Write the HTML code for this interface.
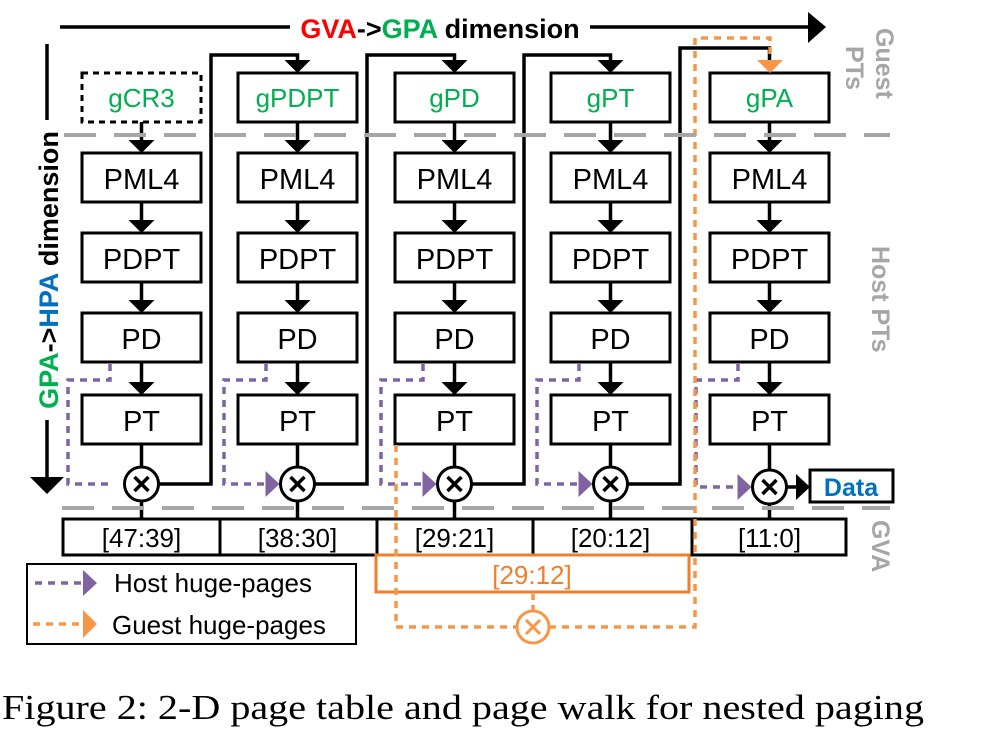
<!DOCTYPE html>
<html><head><meta charset="utf-8"><style>
html,body{margin:0;padding:0;background:#fff;}
svg{display:block;}
text{font-family:"Liberation Sans",sans-serif;}
text.cap{font-family:"Liberation Serif",serif;}
</style></head><body>
<svg id="s" width="989" height="732" viewBox="0 0 989 732" xmlns="http://www.w3.org/2000/svg">
<g id="g"></g>
<g>
<line x1="60" y1="27" x2="290" y2="27" stroke="#000" stroke-width="3.5"/>
<line x1="590" y1="27" x2="810" y2="27" stroke="#000" stroke-width="3.5"/>
<path d="M808,12 L826,27 L808,43 z" fill="#000"/>
<text x="440" y="38" font-size="27" font-weight="bold" text-anchor="middle"><tspan fill="#ff0000">GVA</tspan><tspan fill="#000">-&gt;</tspan><tspan fill="#00b050">GPA</tspan><tspan fill="#000"> dimension</tspan></text>
</g>
<g>
<line x1="47" y1="44" x2="47" y2="120" stroke="#000" stroke-width="3.5"/>
<line x1="47" y1="420" x2="47" y2="478" stroke="#000" stroke-width="3.5"/>
<path d="M30,477 L47,494 L64,477 z" fill="#000"/>
<text transform="translate(58,270) rotate(-90)" font-size="27" font-weight="bold" text-anchor="middle"><tspan fill="#00b050">GPA</tspan><tspan fill="#000">-&gt;</tspan><tspan fill="#0070c0">HPA</tspan><tspan fill="#000"> dimension</tspan></text>
</g>
<text transform="translate(876,28) rotate(90)" font-size="25" font-weight="bold" fill="#a6a6a6">Guest</text>
<text transform="translate(846,46) rotate(90)" font-size="25" font-weight="bold" fill="#a6a6a6">PTs</text>
<text transform="translate(872,246) rotate(90)" font-size="25" font-weight="bold" fill="#a6a6a6">Host PTs</text>
<text transform="translate(872,520) rotate(90)" font-size="25" font-weight="bold" fill="#a6a6a6">GVA</text>
<line x1="64" y1="135" x2="890" y2="135" stroke="#a6a6a6" stroke-width="4" stroke-dasharray="32,18"/>
<line x1="62" y1="508" x2="890" y2="508" stroke="#a6a6a6" stroke-width="4" stroke-dasharray="32,18"/>
<text class="cap" x="2" y="719" font-size="35" fill="#000" textLength="922" lengthAdjust="spacingAndGlyphs">Figure 2: 2-D page table and page walk for nested paging</text>
</svg>
<script>
var guestLabels=["gCR3","gPDPT","gPD","gPT","gPA"];
var hostLevels=["PML4","PDPT","PD","PT"];
var gvaLabels=["[47:39]","[38:30]","[29:21]","[20:12]","[11:0]"];
var NS="http://www.w3.org/2000/svg";
var g=document.getElementById('g');
function mk(t,a,p){var e=document.createElementNS(NS,t);for(var k in a)e.setAttribute(k,a[k]);(p||g).appendChild(e);return e;}
var colX=[82,238,395,551,710], bw=119, bh=49;
var rowY=[153,233,313,395];
var cy=[484,484,484,484,487];
for(var i=0;i<5;i++){
  var x=colX[i], cx=x+bw/2;
  var col=mk('g',{});
  
  
  var gb=mk('rect',{x:x,y:73,width:bw,height:bh,fill:'#fff',stroke:'#000','stroke-width':3},col);
  if(i==0)gb.setAttribute('stroke-dasharray','6,5');
  
  
  var gt=mk('text',{x:cx,y:107,'font-size':26,fill:'#00b050','text-anchor':'middle'},col);
  gt.textContent=guestLabels[i];
  
  
  var tops=[122].concat(rowY.map(function(y){return y+bh;}));
  for(var r=0;r<4;r++){
    mk('line',{x1:cx,y1:tops[r],x2:cx,y2:rowY[r]-12,stroke:'#000','stroke-width':3.5},col);
    mk('path',{d:'M'+(cx-13)+','+(rowY[r]-13)+' L'+cx+','+rowY[r]+' L'+(cx+13)+','+(rowY[r]-13)+' z',fill:'#000'},col);
    var hb=mk('rect',{x:x,y:rowY[r],width:bw,height:bh,fill:'#fff',stroke:'#000','stroke-width':3},col);
    
    
    var ht=mk('text',{x:cx,y:rowY[r]+36,'font-size':29,fill:'#000','text-anchor':'middle'},col);
    ht.textContent=hostLevels[r];
  }
  mk('line',{x1:cx,y1:444,x2:cx,y2:cy[i]-17,stroke:'#000','stroke-width':3.5},col);
  mk('line',{x1:cx,y1:cy[i]+17,x2:cx,y2:519,stroke:'#000','stroke-width':3.5},col);
  var px=x+28, lx=x-14;
  mk('path',{d:'M'+px+','+(rowY[2]+bh+2)+' L'+px+','+(380)+' L'+lx+','+380+' L'+lx+','+cy[i]+' L'+(cx-30)+','+cy[i],fill:'none',stroke:'#8064a2','stroke-width':3.5,'stroke-dasharray':'7,6'},col);
  if(i>0) mk('path',{d:'M'+(cx-32)+','+(cy[i]-13)+' L'+(cx-18)+','+cy[i]+' L'+(cx-32)+','+(cy[i]+13)+' z',fill:'#8064a2'},col);
  var c=mk('circle',{cx:cx,cy:cy[i],r:17,fill:'#fff',stroke:'#000','stroke-width':3},col);
  
  
  mk('path',{d:'M'+(cx-7)+','+(cy[i]-7)+' L'+(cx+7)+','+(cy[i]+7)+' M'+(cx+7)+','+(cy[i]-7)+' L'+(cx-7)+','+(cy[i]+7),stroke:'#000','stroke-width':3.5},col);
  if(i<4){
    var vx=colX[i]+bw+10, nx=colX[i+1]+bw/2;
    var ty=(i==3?48:55);
    mk('path',{d:'M'+(cx+17)+','+cy[i]+' L'+vx+','+cy[i]+' L'+vx+','+ty+' L'+nx+','+ty+' L'+nx+',62',fill:'none',stroke:'#000','stroke-width':3.5},col);
    if(i<3) mk('path',{d:'M'+(nx-13)+',60 L'+nx+',73 L'+(nx+13)+',60 z',fill:'#000'},col);
  }
  var gx=(i==0?63:colX[i]-18), gx2=(i==4?846:colX[i+1]-18);
  var gr=mk('rect',{x:gx,y:519,width:gx2-gx,height:36,fill:'#fff',stroke:'#000','stroke-width':3},col);
  
  
  var gvt=mk('text',{x:cx,y:547,'font-size':26,fill:'#000','text-anchor':'middle'},col);
  gvt.textContent=gvaLabels[i];
}
mk('line',{x1:786,y1:487,x2:798,y2:487,stroke:'#000','stroke-width':3.5});
mk('path',{d:'M796,474 L810,487 L796,500 z',fill:'#000'});
var db=mk('rect',{x:810,y:470,width:83,height:32,fill:'#fff',stroke:'#000','stroke-width':3});


var dt=mk('text',{x:851,y:496,'font-size':25,'font-weight':'bold',fill:'#0070c0','text-anchor':'middle'});
dt.textContent='Data';
var og=mk('g',{});


mk('rect',{x:376,y:555,width:313,height:37,fill:'none',stroke:'#f07f2c','stroke-width':3},og);
var ot=mk('text',{x:532,y:584,'font-size':26,fill:'#f07f2c','text-anchor':'middle'},og);
ot.textContent='[29:12]';
mk('path',{d:'M396,445 L396,627 L517,627 M549,627 L695,627 L695,38 L770,38 L770,58',fill:'none',stroke:'#f79646','stroke-width':3.5,'stroke-dasharray':'7,6'},og);
mk('line',{x1:533,y1:594,x2:533,y2:611,stroke:'#f79646','stroke-width':3.5,'stroke-dasharray':'6,5'},og);
mk('path',{d:'M757,60 L770,73 L783,60 z',fill:'#f79646'},og);
mk('circle',{cx:533,cy:627,r:16,fill:'#fff',stroke:'#f79646','stroke-width':3},og);
mk('path',{d:'M526,620 L540,634 M540,620 L526,634',stroke:'#f79646','stroke-width':3},og);
var lg=mk('g',{});


mk('rect',{x:27,y:564,width:329,height:80,fill:'#fff',stroke:'#000','stroke-width':2},lg);
mk('line',{x1:35,y1:583,x2:82,y2:583,stroke:'#8064a2','stroke-width':3.5,'stroke-dasharray':'7,6'},lg);
mk('path',{d:'M83,570 L97,583 L83,596 z',fill:'#8064a2'},lg);
var l1=mk('text',{x:114,y:592,'font-size':26,fill:'#000'},lg);l1.textContent='Host huge-pages';
mk('line',{x1:33,y1:624,x2:82,y2:624,stroke:'#f79646','stroke-width':3.5,'stroke-dasharray':'7,6'},lg);
mk('path',{d:'M83,610 L97,624 L83,638 z',fill:'#f79646'},lg);
var l2=mk('text',{x:112,y:634,'font-size':26,fill:'#000'},lg);l2.textContent='Guest huge-pages';
</script>
</body></html>
